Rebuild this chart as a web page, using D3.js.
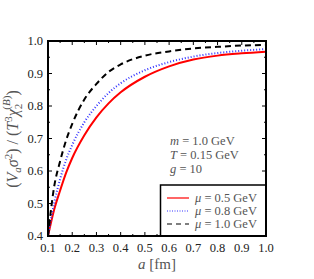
<!DOCTYPE html>
<html><head><meta charset="utf-8">
<script src="https://cdn.jsdelivr.net/npm/d3@7"></script>
<style>body{margin:0;background:#fff}svg{display:block}</style>
</head><body><div id="c"></div>
<script>
const aValues = [0.1,0.125,0.15,0.175,0.2,0.25,0.3,0.35,0.4,0.5,0.6,0.7,0.8,0.9,1.0];
const mu05 = [0.40,0.48,0.54,0.595,0.64,0.71,0.765,0.808,0.842,0.89,0.922,0.943,0.955,0.962,0.967];
const mu08 = [0.40,0.50,0.575,0.635,0.68,0.75,0.80,0.84,0.87,0.91,0.935,0.952,0.963,0.97,0.975];
const mu10 = [0.40,0.55,0.63,0.695,0.745,0.82,0.868,0.905,0.928,0.955,0.968,0.977,0.982,0.986,0.988];
const seriesNames = ["μ = 0.5 GeV","μ = 0.8 GeV","μ = 1.0 GeV"];
const xTicks = [0.1,0.2,0.3,0.4,0.5,0.6,0.7,0.8,0.9,1.0];
const yTicks = [0.4,0.5,0.6,0.7,0.8,0.9,1.0];
const params = ["m = 1.0 GeV","T = 0.15 GeV","g = 10"];

const W=314,H=279;
const L=48,R=266,T=41,B=236;
const svg=d3.select("#c").append("svg").attr("width",W).attr("height",H);
const x=d3.scaleLinear().domain([0.1,1.0]).range([L,R]);
const y=d3.scaleLinear().domain([0.4,1.0]).range([B,T]);
const font="'Liberation Serif','DejaVu Serif',serif";

svg.append("clipPath").attr("id","cp").append("rect").attr("x",L).attr("y",T).attr("width",R-L).attr("height",B-T);

const styles=[
 {color:"#ff0000",dash:null},
 {color:"#3333ff",dash:"1,2"},
 {color:"#000000",dash:"6,4"}
];
const data=[mu05,mu08,mu10];
const line=d3.line().x((d,i)=>x(aValues[i])).y(d=>y(d)).curve(d3.curveMonotoneX);
const g=svg.append("g").attr("clip-path","url(#cp)");
data.forEach((s,i)=>{
  g.append("path").attr("d",line(s)).attr("fill","none")
   .attr("stroke",styles[i].color).attr("stroke-width",2)
   .attr("stroke-dasharray",styles[i].dash);
});

const xMinor=d3.range(0.15,1.0,0.1);
const yMinor=d3.range(0.45,1.0,0.1);
const tk=svg.append("g").attr("stroke","#000").attr("stroke-width",1);
xTicks.forEach(v=>{tk.append("line").attr("x1",x(v)).attr("x2",x(v)).attr("y1",B).attr("y2",B-4);
  tk.append("line").attr("x1",x(v)).attr("x2",x(v)).attr("y1",T).attr("y2",T+4);});
xMinor.forEach(v=>{tk.append("line").attr("x1",x(v)).attr("x2",x(v)).attr("y1",B).attr("y2",B-2);
  tk.append("line").attr("x1",x(v)).attr("x2",x(v)).attr("y1",T).attr("y2",T+2);});
yTicks.forEach(v=>{tk.append("line").attr("x1",L).attr("x2",L+4).attr("y1",y(v)).attr("y2",y(v));
  tk.append("line").attr("x1",R).attr("x2",R-4).attr("y1",y(v)).attr("y2",y(v));});
yMinor.forEach(v=>{tk.append("line").attr("x1",L).attr("x2",L+2).attr("y1",y(v)).attr("y2",y(v));
  tk.append("line").attr("x1",R).attr("x2",R-2).attr("y1",y(v)).attr("y2",y(v));});

svg.append("g").selectAll("text").data(xTicks).join("text")
  .attr("x",d=>x(d)).attr("y",252).attr("text-anchor","middle")
  .attr("font-family",font).attr("font-size",12.5).attr("fill","#222").text(d=>d.toFixed(1));
svg.append("g").selectAll("text").data(yTicks).join("text")
  .attr("x",43).attr("y",d=>y(d)+4).attr("text-anchor","end")
  .attr("font-family",font).attr("font-size",12.5).attr("fill","#222").text(d=>d.toFixed(1));

const xt=svg.append("text").attr("x",157).attr("y",269).attr("text-anchor","middle")
  .attr("font-family",font).attr("font-size",15).attr("fill","#555");
xt.append("tspan").attr("font-style","italic").text("a");
xt.append("tspan").text(" [fm]");

const yt=svg.append("text").attr("transform","translate(18,139) rotate(-90)").attr("text-anchor","middle")
  .attr("font-family",font).attr("font-size",16).attr("fill","#555");
yt.append("tspan").text("(");
yt.append("tspan").attr("font-style","italic").text("V");
yt.append("tspan").attr("font-style","italic").attr("font-size",11).attr("dy",3).text("a");
yt.append("tspan").attr("font-style","italic").attr("dy",-3).text("σ");
yt.append("tspan").attr("font-size",11).attr("dy",-6).text("2");
yt.append("tspan").attr("dy",6).text(") / (");
yt.append("tspan").attr("font-style","italic").text("T");
yt.append("tspan").attr("font-size",11).attr("dy",-6).text("3");
yt.append("tspan").attr("font-style","italic").attr("dy",6).text("χ");
yt.append("tspan").attr("font-size",11).attr("dy",4).text("2");
yt.append("tspan").attr("font-size",11).attr("dy",-12).attr("dx",-6).text("(");
yt.append("tspan").attr("font-size",11).attr("font-style","italic").text("B");
yt.append("tspan").attr("font-size",11).text(")");
yt.append("tspan").attr("dy",8).text(")");

const pa=svg.append("g").attr("font-family",font).attr("font-size",12.5).attr("fill","#555");
params.forEach((p,i)=>{
  const parts=p.split(" = ");
  const t=pa.append("text").attr("x",170).attr("y",145+i*14);
  t.append("tspan").attr("font-style","italic").text(parts[0]);
  t.append("tspan").text(" = "+parts[1]);
});

svg.append("rect").attr("x",160.5).attr("y",185).attr("width",R-160.5).attr("height",B-185)
  .attr("fill","#fff").attr("stroke","#000").attr("stroke-width",1.5);
seriesNames.forEach((n,i)=>{
  const yy=198+i*13;
  svg.append("line").attr("x1",167).attr("x2",189).attr("y1",yy).attr("y2",yy)
    .attr("stroke",styles[i].color).attr("stroke-width",1.2).attr("stroke-dasharray",styles[i].dash?(i==1?"1,1.5":"5,4"):null);
  const t=svg.append("text").attr("x",195).attr("y",yy+4).attr("font-family",font).attr("font-size",12.5).attr("fill","#555");
  t.append("tspan").attr("font-style","italic").text("μ");
  t.append("tspan").text(n.slice(1));
});

svg.append("rect").attr("x",L).attr("y",T).attr("width",R-L).attr("height",B-T)
  .attr("fill","none").attr("stroke","#000").attr("stroke-width",2);
</script></body></html>
